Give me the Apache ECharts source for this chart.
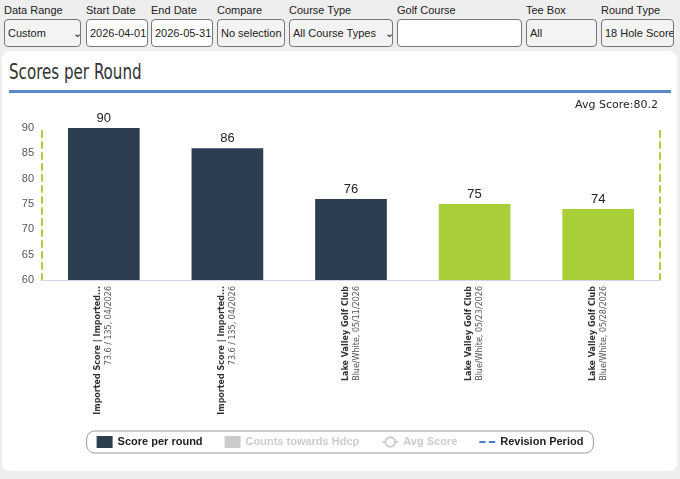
<!DOCTYPE html>
<html><head><meta charset="utf-8">
<script src="https://cdn.jsdelivr.net/npm/echarts@6/dist/echarts.min.js"></script>
<style>
body{margin:0;background:#eeeeee;font-family:Arial,"Liberation Sans",sans-serif;width:680px;height:479px;overflow:hidden;position:relative}
.f{position:absolute;top:4px;font-size:11px;color:#222}
.f .c{margin-top:3px;height:28px;border:1px solid #777;border-radius:4px;background:#f3f3f3;box-sizing:border-box;font-size:11px;line-height:26px;padding:0 3px;white-space:nowrap;overflow:hidden}
.c.w{background:#fff}
.panel{position:absolute;left:2px;top:51px;width:675px;height:420px;background:#fff;border-radius:8px}
.title{position:absolute;left:9px;top:60px;font-size:21px;font-family:"Liberation Sans Narrow","DejaVu Sans Condensed",sans-serif;color:#333;transform:scaleX(0.8);transform-origin:left}
.bl{position:absolute;left:9px;top:90px;width:662px;height:3px;background:#5b8ac9}
#chart{position:absolute;left:0;top:0;width:680px;height:479px}
</style></head><body>
<div class="f" style="left:4px"><div>Data Range</div><div class="c" style="width:77px">Custom &nbsp; &nbsp; &nbsp; &nbsp; &#8964;</div></div>
<div class="f" style="left:86px"><div>Start Date</div><div class="c w" style="width:62px">2026-04-01</div></div>
<div class="f" style="left:151px"><div>End Date</div><div class="c w" style="width:62px">2026-05-31</div></div>
<div class="f" style="left:217px"><div>Compare</div><div class="c" style="width:68px">No selection</div></div>
<div class="f" style="left:289px"><div>Course Type</div><div class="c" style="width:104px">All Course Types &nbsp; &#8964;</div></div>
<div class="f" style="left:397px"><div>Golf Course</div><div class="c w" style="width:125px"></div></div>
<div class="f" style="left:526px"><div>Tee Box</div><div class="c" style="width:71px">All</div></div>
<div class="f" style="left:601px"><div>Round Type</div><div class="c" style="width:73px">18 Hole Score</div></div>
<div class="panel"></div>
<div class="title">Scores per Round</div>
<div class="bl"></div>
<div id="chart"></div>
<script>
var courses = ['Imported Score | Imported...', 'Imported Score | Imported...', 'Lake Valley Golf Club', 'Lake Valley Golf Club', 'Lake Valley Golf Club'];
var details = ['73.6 / 135, 04/2026', '73.6 / 135, 04/2026', 'Blue/White, 05/11/2026', 'Blue/White, 05/23/2026', 'Blue/White, 05/28/2026'];
var scores = [90, 86, 76, 75, 74];
var counts = [false, false, false, true, true];
var avgScore = 80.2;
var yTicks = [60, 65, 70, 75, 80, 85, 90];

var chart = echarts.init(document.getElementById('chart'));
chart.setOption({
  animation: false,
  graphic: [{type:'text', right: 22, top: 100, style:{text:'Avg Score:' + avgScore, font:'11px "DejaVu Sans"', fill:'#222'}}],
  legend: {
    bottom: 26, left: 'center', itemGap: 22, padding: [5, 10], borderColor: '#999', borderWidth: 1, borderRadius: 8,
    itemWidth: 16, itemHeight: 12,
    textStyle: {fontSize: 11, fontWeight: 'bold', color: '#222'},
    inactiveColor: '#ccc',
    selected: {'Counts towards Hdcp': false, 'Avg Score': false},
    data: [{name:'Score per round', icon:'rect'}, {name:'Counts towards Hdcp', icon:'rect'}, {name:'Avg Score'}, {name:'Revision Period', icon:'path://M0,5h6v2h-6zM9,5h6v2h-6z'}]
  },
  grid: {left: 42, right: 20, top: 128, bottom: 199},
  xAxis: {
    type: 'category', data: courses.map(function(c, i){ return c + '\n' + details[i]; }),
    axisLine: {lineStyle: {color: '#ccd6eb'}}, axisTick: {lineStyle: {color: '#ccd6eb'}, length: 6},
    axisLabel: {rotate: 90, interval: 0, margin: 6, lineHeight: 11,
      formatter: function(v){ var p = v.split('\n'); return '{a|' + p[0] + '}\n{b|' + p[1] + '}'; },
      rich: {a: {fontSize: 8, fontWeight: 'bold', color: '#333', fontFamily: 'DejaVu Sans'}, b: {fontSize: 8, color: '#555', fontFamily: 'DejaVu Sans'}}}
  },
  yAxis: [
    {type: 'value', min: yTicks[0], max: yTicks[yTicks.length-1], interval: 5,
     axisLine: {show: true, lineStyle: {color: '#a8d03a', type: [6, 5], width: 2}},
     axisLabel: {color: '#555', fontSize: 11}, splitLine: {show: false}},
    {type: 'value', min: 60, max: 90, interval: 5, position: 'right',
     axisLine: {show: true, lineStyle: {color: '#a8d03a', type: [6, 5], width: 2}},
     axisLabel: {show: false}, splitLine: {show: false}}
  ],
  series: [
    {name: 'Score per round', type: 'bar', barWidth: '58%', itemStyle: {color: '#2c3e50'},
     data: scores.map(function(s, i){ return {value: s, itemStyle: {color: counts[i] ? '#a8cf38' : '#2c3e50'}}; }),
     label: {show: true, position: 'top', fontSize: 13, color: '#222', distance: 3}},
    {name: 'Counts towards Hdcp', type: 'bar', data: [], itemStyle: {color: '#ccc'}},
    {name: 'Avg Score', type: 'line', data: [], itemStyle: {color: '#ccc'}},
    {name: 'Revision Period', type: 'line', data: [], itemStyle: {color: '#4a7fd0'}, lineStyle: {type: 'dashed'}}
  ]
});
</script>
</body></html>
